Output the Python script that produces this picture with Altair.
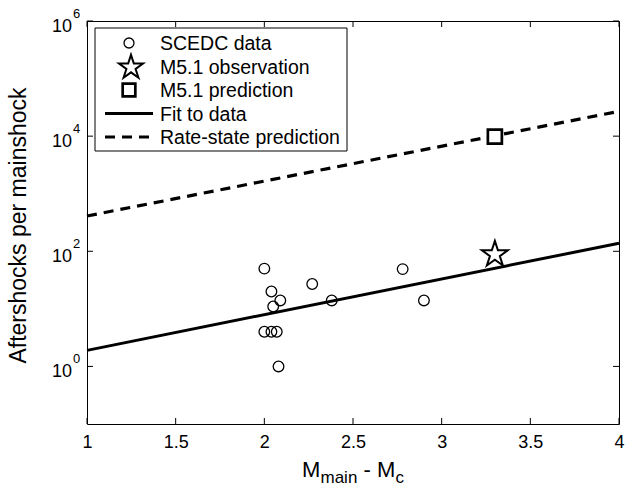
import math
import altair as alt
import pandas as pd

# --- data -------------------------------------------------------------
scedc_dm = [2.00, 2.04, 2.09, 2.05, 2.27, 2.38, 2.78, 2.90, 2.00, 2.04, 2.07, 2.08]
scedc_n = [50, 20, 14, 11, 27, 14, 49, 14, 4, 4, 4, 1]

obs_dm = [3.30]
obs_n = [88]

pred_dm = [3.30]
pred_n = [9800]

fit_dm = [1.0, 4.0]
fit_n = [1.9, 138]

rs_dm = [1.0, 4.0]
rs_n = [410, 27000]

x_ticks = [1, 1.5, 2, 2.5, 3, 3.5, 4]
y_exps = [0, 2, 4, 6]

legend_labels = ["SCEDC data", "M5.1 observation", "M5.1 prediction",
                 "Fit to data", "Rate-state prediction"]

# --- styling ----------------------------------------------------------
FONT = "Liberation Sans"
W, H = 532, 403
TICK = 6

# five-pointed star (pentagram) as an SVG path in [-1, 1]
pts = []
for k in range(10):
    r = 1.0 if k % 2 == 0 else 0.382
    a = math.radians(-90 + 36 * k)
    pts.append(f"{r * math.cos(a):.4f},{r * math.sin(a):.4f}")
STAR = "M" + " L".join(pts) + " Z"

xs = alt.Scale(domain=[1, 4], nice=False, zero=False)
ys = alt.Scale(type="log", domain=[0.1, 1e6], nice=False)

x_axis = alt.Axis(values=x_ticks, format="~g", ticks=False, domain=False,
                  grid=False, labelFont=FONT, labelFontSize=18,
                  labelColor="black", labelPadding=9, labelFlush=False,
                  title=None)


def X(field):
    return alt.X(f"{field}:Q", scale=xs, axis=x_axis)


def Y(field):
    return alt.Y(f"{field}:Q", scale=ys, axis=None)


scedc_df = pd.DataFrame({"dm": scedc_dm, "n": scedc_n})
obs_df = pd.DataFrame({"dm": obs_dm, "n": obs_n})
pred_df = pd.DataFrame({"dm": pred_dm, "n": pred_n})
fit_df = pd.DataFrame({"dm": fit_dm, "n": fit_n})
rs_df = pd.DataFrame({"dm": rs_dm, "n": rs_n})
xt_df = pd.DataFrame({"dm": x_ticks})
yt_df = pd.DataFrame({"n": [10.0 ** e for e in y_exps],
                      "base": ["10"] * len(y_exps),
                      "sup": [str(e) for e in y_exps]})

# --- data layers ------------------------------------------------------
fit_line = alt.Chart(fit_df).mark_line(color="black", strokeWidth=3).encode(
    x=X("dm"), y=Y("n"))
rs_line = alt.Chart(rs_df).mark_line(
    color="black", strokeWidth=3.2, strokeDash=[10, 7]).encode(x=X("dm"), y=Y("n"))
scedc_pts = alt.Chart(scedc_df).mark_point(
    shape="circle", size=113, filled=False, color="black", strokeWidth=1.3,
    opacity=1).encode(x=X("dm"), y=Y("n"))
obs_pt = alt.Chart(obs_df).mark_point(
    shape=STAR, size=740, filled=True, fill="white", stroke="black",
    strokeWidth=2, opacity=1).encode(x=X("dm"), y=Y("n"))
pred_pt = alt.Chart(pred_df).mark_point(
    shape="square", size=196, filled=True, fill="white", stroke="black",
    strokeWidth=2.7, opacity=1).encode(x=X("dm"), y=Y("n"))

# --- inward ticks on all four sides -----------------------------------
tick_style = dict(color="black", strokeWidth=1)
xt_bottom = alt.Chart(xt_df).mark_rule(**tick_style).encode(
    x=X("dm"), y=alt.value(H), y2=alt.value(H - TICK))
xt_top = alt.Chart(xt_df).mark_rule(**tick_style).encode(
    x=X("dm"), y=alt.value(0), y2=alt.value(TICK))
yt_left = alt.Chart(yt_df).mark_rule(**tick_style).encode(
    y=Y("n"), x=alt.value(0), x2=alt.value(TICK))
yt_right = alt.Chart(yt_df).mark_rule(**tick_style).encode(
    y=Y("n"), x=alt.value(W), x2=alt.value(W - TICK))

# power-of-ten tick labels
y_base = alt.Chart(yt_df).mark_text(
    font=FONT, fontSize=18, align="right", baseline="middle", dy=6,
    color="black").encode(y=Y("n"), x=alt.value(-15), text="base:N")
y_sup = alt.Chart(yt_df).mark_text(
    font=FONT, fontSize=13, align="left", baseline="middle", dy=-7,
    color="black").encode(y=Y("n"), x=alt.value(-14), text="sup:N")

# --- axis titles --------------------------------------------------------
# (text, font size, x offset, vertical shift) for M_main - M_c
title_parts = [("M", 22, 0, 0), ("main", 17, 18.5, 6), ("- M", 22, 61.5, 0),
               ("c", 17, 93.5, 6)]
title_left = W / 2 - 51
x_title = []
for txt, fs, off, dy in title_parts:
    x_title.append(
        alt.Chart(pd.DataFrame({"t": [txt]})).mark_text(
            font=FONT, fontSize=fs, align="left", baseline="alphabetic",
            dy=dy, color="black").encode(
            x=alt.value(title_left + off), y=alt.value(H + 53), text="t:N"))

y_title = alt.Chart(pd.DataFrame({"t": ["Aftershocks per mainshock"]})).mark_text(
    font=FONT, fontSize=23, angle=270, align="center", baseline="alphabetic",
    color="black").encode(x=alt.value(-61), y=alt.value(H / 2 + 3), text="t:N")

# --- legend -------------------------------------------------------------
LX0, LX1, LY0, LY1 = 8, 260, 7, 130
rows = [22, 45.5, 69, 92.5, 116]
SYM_X, TXT_X = 42, 73

leg_box = alt.Chart(pd.DataFrame({"k": [0]})).mark_rect(
    fill="white", stroke="black", strokeWidth=1).encode(
    x=alt.value(LX0), x2=alt.value(LX1), y=alt.value(LY0), y2=alt.value(LY1))

one = pd.DataFrame({"k": [0]})
leg_circle = alt.Chart(one).mark_point(
    shape="circle", size=100, filled=False, color="black", strokeWidth=1.3,
    opacity=1).encode(x=alt.value(SYM_X), y=alt.value(rows[0]))
leg_star = alt.Chart(one).mark_point(
    shape=STAR, size=640, filled=True, fill="white", stroke="black",
    strokeWidth=2, opacity=1).encode(x=alt.value(SYM_X + 2), y=alt.value(rows[1] + 1))
leg_square = alt.Chart(one).mark_point(
    shape="square", size=160, filled=True, fill="white", stroke="black",
    strokeWidth=2.7, opacity=1).encode(x=alt.value(SYM_X), y=alt.value(rows[2]))
leg_solid = alt.Chart(one).mark_rule(color="black", strokeWidth=3).encode(
    x=alt.value(18), x2=alt.value(66), y=alt.value(rows[3]))
leg_dash = alt.Chart(one).mark_rule(
    color="black", strokeWidth=3.2, strokeDash=[10, 7]).encode(
    x=alt.value(18), x2=alt.value(66), y=alt.value(rows[4]))

leg_text = []
for lab, r in zip(legend_labels, rows):
    leg_text.append(
        alt.Chart(pd.DataFrame({"t": [lab]})).mark_text(
            font=FONT, fontSize=19.5, align="left", baseline="middle",
            color="black").encode(x=alt.value(TXT_X), y=alt.value(r + 1), text="t:N"))

chart = alt.layer(
    rs_line, fit_line, scedc_pts, obs_pt, pred_pt,
    xt_bottom, xt_top, yt_left, yt_right, y_base, y_sup,
    *x_title, y_title,
    leg_box, leg_circle, leg_star, leg_square, leg_solid, leg_dash, *leg_text,
).properties(
    width=W, height=H,
    autosize=alt.AutoSizeParams(type="none"),
    padding={"left": 87, "top": 21, "right": 6, "bottom": 67},
    background="white",
).configure_view(
    stroke="black", strokeWidth=1,
)

chart.save("out.html", embed_options={"renderer": "svg", "actions": False})
